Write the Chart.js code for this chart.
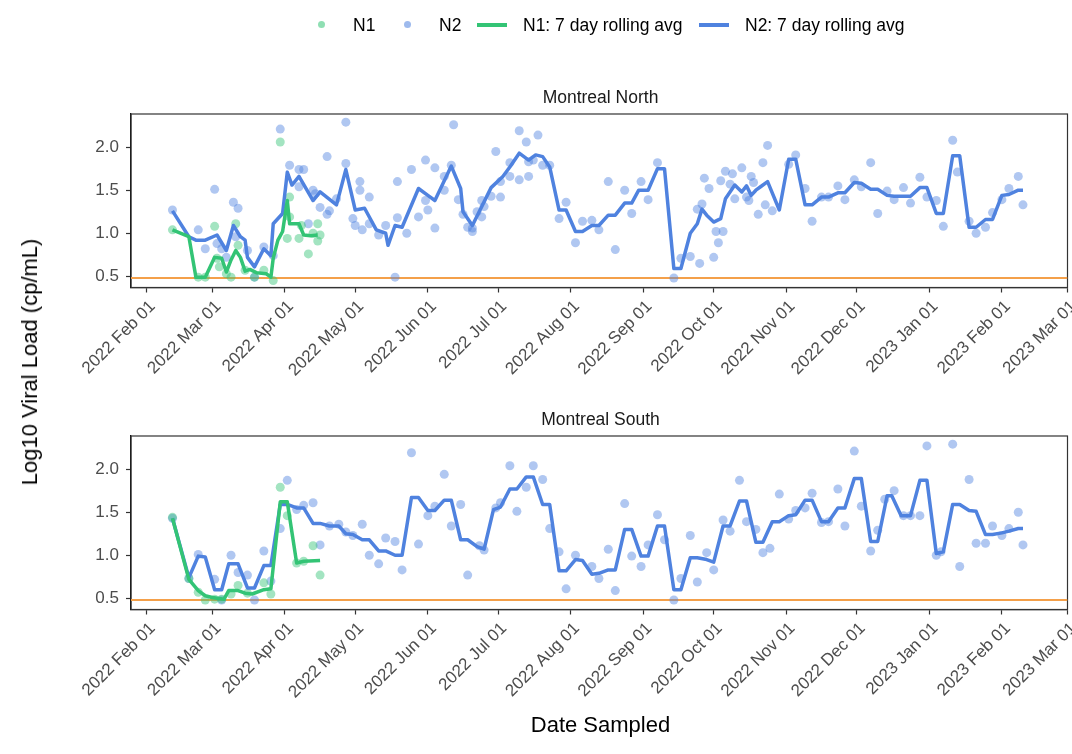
<!DOCTYPE html>
<html>
<head>
<meta charset="utf-8">
<script src="https://cdn.jsdelivr.net/npm/chart.js@4.4.0/dist/chart.umd.min.js"></script>
<style>
    body { margin: 0; background: #fff; font-family: "Liberation Sans", Arial, sans-serif; }
    #wrap { position: relative; width: 1072px; height: 754px; overflow: hidden; }
    canvas { position: absolute; left: 0; }
    .txt { position: absolute; white-space: nowrap; line-height: 20px; }
    .key-dot { position: absolute; width: 7px; height: 7px; border-radius: 50%; }
    .key-line { position: absolute; height: 4px; width: 30px; }
</style>
</head>
<body>
<div id="wrap">
    <canvas id="north-chart" width="1072" height="400" style="top:0"></canvas>
    <canvas id="south-chart" width="1072" height="354" style="top:400px"></canvas>

    <div class="key-dot" style="left:318px;top:21px;background:rgba(51,196,117,0.55)"></div>
    <div class="txt" style="left:353px;top:15px;font-size:17.5px">N1</div>
    <div class="key-dot" style="left:404px;top:21px;background:rgba(79,130,223,0.55)"></div>
    <div class="txt" style="left:439px;top:15px;font-size:17.5px">N2</div>
    <div class="key-line" style="left:477px;top:23px;background:#33c475"></div>
    <div class="txt" style="left:523px;top:15px;font-size:17.5px">N1: 7 day rolling avg</div>
    <div class="key-line" style="left:699px;top:23px;background:#4f82df"></div>
    <div class="txt" style="left:745px;top:15px;font-size:17.5px">N2: 7 day rolling avg</div>

    <div class="txt" style="left:131px;width:939px;top:87px;text-align:center;font-size:17.5px;color:#1a1a1a">Montreal North</div>
    <div class="txt" style="left:131px;width:939px;top:409px;text-align:center;font-size:17.5px;color:#1a1a1a">Montreal South</div>

    <div class="txt" style="left:30px;top:362px;font-size:22px;line-height:26px;transform:translate(-50%,-50%) rotate(-90deg)">Log10 Viral Load (cp/mL)</div>
    <div class="txt" style="left:0;width:1201px;top:712px;text-align:center;font-size:22px;line-height:26px">Date Sampled</div>
</div>

<script>
// days are counted from 2022-01-01 (day 0)
const startDate = '2022-01-01';
const tickDates = ['2022-02-01', '2022-03-01', '2022-04-01', '2022-05-01', '2022-06-01', '2022-07-01',
    '2022-08-01', '2022-09-01', '2022-10-01', '2022-11-01', '2022-12-01', '2023-01-01', '2023-02-01', '2023-03-01'];
const yTicks = [0.5, 1.0, 1.5, 2.0];
const lodLine = 0.48;

// Montreal North
const northN1Day = [42, 53, 56, 60, 61, 62, 65, 67, 69, 70, 73, 77, 81, 85, 88, 92, 91, 92, 96, 97, 100, 102, 104, 104, 105];
const northN1Val = [1.04, 0.49, 0.49, 1.08, 0.71, 0.61, 0.53, 0.49, 1.11, 0.86, 0.57, 0.49, 0.57, 0.45, 2.06, 1.42, 0.94, 1.19, 0.94, 1.09, 0.76, 1.00, 1.11, 0.91, 0.98];
const northN1AvgDay = [42, 49, 52, 56, 60, 63, 65, 67, 69, 71, 73, 75, 78, 82, 84, 85, 87, 89, 91, 92, 96, 98, 101, 104];
const northN1AvgVal = [1.04, 0.96, 0.49, 0.49, 0.72, 0.71, 0.55, 0.69, 0.80, 0.72, 0.56, 0.58, 0.54, 0.53, 0.49, 0.71, 0.92, 1.02, 1.38, 1.11, 1.11, 0.98, 0.97, 0.98];

const northN2Day = [42, 53, 56, 60, 61, 63, 65, 68, 70, 69, 74, 77, 81, 85, 88, 92, 96, 98, 96, 100, 102, 103, 105, 108, 108, 109, 112,
    116, 116, 122, 122, 119, 120, 123, 126, 126, 130, 133, 137, 138, 138, 142, 144, 147, 150, 151, 154, 154, 150,
    158, 158, 162, 161, 164, 166, 168, 170, 170, 172, 174, 174, 175, 178, 180, 182, 182, 186, 186, 190, 190, 193, 194, 194,
    196, 198, 200, 203, 207, 210, 214, 217, 221, 224, 228, 231, 235, 238, 242, 245, 249, 256, 259, 263, 267, 266, 268, 269,
    271, 273, 274, 275, 277, 276, 278, 280, 281, 282, 285, 287, 289, 290, 288, 292, 294, 295, 296, 298, 305, 308, 312, 315,
    319, 322, 326, 329, 333, 336, 340, 343, 347, 350, 354, 357, 361, 364, 368, 371, 375, 377, 382, 385, 389, 392, 396, 399, 403, 405];
const northN2Val = [1.27, 1.04, 0.82, 1.51, 0.88, 0.82, 0.72, 1.36, 1.29, 0.96, 0.80, 0.49, 0.84, 0.74, 2.21, 1.79, 1.74, 1.74, 1.54, 1.11, 1.50, 1.46, 1.30, 1.89, 1.22, 1.26, 1.40,
    2.29, 1.81, 1.60, 1.50, 1.17, 1.09, 1.04, 1.11, 1.42, 0.98, 1.09, 0.49, 1.60, 1.18, 1.00, 1.74, 1.19, 1.85, 1.27, 1.06, 1.76, 1.38,
    1.66, 1.50, 2.26, 1.79, 1.39, 1.22, 1.07, 1.06, 1.02, 1.25, 1.38, 1.19, 1.31, 1.43, 1.95, 1.42, 1.60, 1.66, 1.82, 2.19, 1.62, 2.06, 1.66, 1.83,
    1.85, 2.14, 1.79, 1.79, 1.17, 1.36, 0.89, 1.14, 1.15, 1.04, 1.60, 0.81, 1.50, 1.23, 1.60, 1.39, 1.82, 0.48, 0.71, 0.73, 0.65, 1.28, 1.34, 1.64,
    1.52, 0.72, 1.02, 0.89, 1.02, 1.61, 1.72, 1.57, 1.69, 1.40, 1.76, 1.42, 1.66, 1.59, 1.38, 1.22, 1.82, 1.33, 2.02, 1.26, 1.80, 1.91, 1.52, 1.14,
    1.42, 1.42, 1.55, 1.39, 1.62, 1.54, 1.82, 1.23, 1.49, 1.39, 1.53, 1.35, 1.65, 1.42, 1.38, 1.08, 2.08, 1.71, 1.14, 1.00, 1.07, 1.24, 1.39, 1.52, 1.66, 1.33];
const northN2AvgDay = [42, 49, 52, 56, 61, 65, 68, 71, 73, 74, 77, 81, 84, 85, 89, 91, 93, 96, 102, 105, 112, 116, 120, 124, 129, 133, 134, 137, 140,
    147, 151, 154, 161, 165, 166, 170, 178, 183, 186, 190, 194, 197, 200, 203, 207, 210, 214, 217, 221, 224, 228, 231, 235, 238, 241, 245,
    249, 252, 256, 259, 263, 266, 268, 270, 273, 276, 278, 282, 285, 287, 289, 291, 293, 296, 301, 305, 308, 312, 315, 319, 322, 326, 329,
    333, 336, 340, 343, 347, 350, 357, 361, 364, 368, 371, 375, 378, 382, 385, 389, 392, 396, 399, 403, 405];
const northN2AvgVal = [1.26, 0.96, 0.92, 0.92, 0.98, 0.80, 1.09, 0.96, 0.92, 0.72, 0.61, 0.82, 0.74, 1.11, 1.23, 1.71, 1.56, 1.66, 1.38, 1.48, 1.33, 1.74, 1.27, 1.29, 1.04, 1.00, 0.86, 1.09, 1.07,
    1.52, 1.44, 1.38, 1.78, 1.52, 1.25, 1.09, 1.53, 1.66, 1.77, 1.93, 1.85, 1.91, 1.89, 1.77, 1.27, 1.27, 1.02, 1.02, 1.09, 1.09, 1.21, 1.21, 1.35, 1.35, 1.50, 1.50,
    1.75, 1.75, 0.59, 0.59, 1.00, 1.11, 1.28, 1.21, 1.13, 1.17, 1.40, 1.56, 1.48, 1.55, 1.44, 1.50, 1.54, 1.60, 1.27, 1.86, 1.86, 1.33, 1.33, 1.42, 1.42, 1.47, 1.47,
    1.59, 1.58, 1.51, 1.51, 1.44, 1.43, 1.43, 1.53, 1.53, 1.23, 1.23, 1.90, 1.90, 1.07, 1.07, 1.16, 1.16, 1.44, 1.45, 1.50, 1.50];

// Montreal South
const southN1Day = [42, 49, 53, 56, 60, 63, 67, 70, 74, 81, 84, 88, 91, 95, 98, 102, 105];
const southN1Val = [1.44, 0.73, 0.57, 0.48, 0.49, 0.49, 0.55, 0.65, 0.56, 0.68, 0.55, 1.79, 1.46, 0.91, 0.93, 1.11, 0.77];
const southN1AvgDay = [42, 49, 53, 56, 59, 64, 66, 70, 73, 76, 81, 84, 88, 91, 95, 98, 105];
const southN1AvgVal = [1.43, 0.72, 0.59, 0.53, 0.51, 0.49, 0.59, 0.59, 0.56, 0.55, 0.60, 0.61, 1.62, 1.62, 0.91, 0.93, 0.94];

const southN2Day = [42, 49, 53, 60, 63, 67, 70, 74, 77, 81, 84, 88, 91, 95, 98, 102, 105, 109, 113, 116, 119, 123, 126, 130, 133, 137, 140,
    144, 147, 151, 154, 158, 161, 165, 168, 173, 175, 180, 182, 186, 189, 193, 196, 200, 203, 207, 210, 214, 221, 224, 228, 231,
    235, 238, 242, 245, 249, 252, 256, 259, 263, 266, 270, 273, 277, 280, 284, 287, 291, 294, 297, 301, 305, 308, 312, 315, 319,
    322, 326, 329, 333, 336, 340, 343, 346, 350, 354, 357, 361, 364, 368, 370, 375, 378, 382, 385, 389, 392, 396, 399, 403, 405];
const southN2Val = [1.43, 0.73, 1.01, 0.72, 0.48, 1.00, 0.80, 0.77, 0.48, 1.05, 0.70, 1.31, 1.87, 1.53, 1.58, 1.61, 1.12, 1.34, 1.36, 1.27, 1.23, 1.36, 1.00, 0.90, 1.20, 1.16, 0.83,
    2.19, 1.13, 1.46, 1.57, 1.94, 1.34, 1.59, 0.77, 1.11, 1.06, 1.55, 1.61, 2.04, 1.51, 1.79, 2.04, 1.88, 1.31, 1.04, 0.61, 1.00, 0.87, 0.73, 1.07, 0.59,
    1.60, 0.99, 0.87, 1.12, 1.47, 1.18, 0.48, 0.73, 1.23, 0.69, 1.03, 0.83, 1.41, 1.28, 1.87, 1.39, 1.30, 1.03, 1.08, 1.71, 1.42, 1.52, 1.55, 1.72, 1.38,
    1.39, 1.77, 1.34, 2.21, 1.57, 1.05, 1.29, 1.65, 1.75, 1.46, 1.46, 1.46, 2.27, 1.00, 1.04, 2.29, 0.87, 1.88, 1.14, 1.14, 1.34, 1.23, 1.31, 1.50, 1.12];
const southN2AvgDay = [42, 49, 53, 56, 60, 63, 66, 70, 74, 77, 81, 84, 88, 91, 95, 98, 102, 105, 109, 113, 116, 119, 123, 126, 130, 133, 137, 140,
    144, 147, 151, 154, 158, 161, 165, 168, 172, 175, 179, 182, 186, 189, 193, 196, 200, 203, 207, 210, 214, 217, 221, 224, 228, 231,
    235, 238, 242, 245, 249, 252, 256, 259, 263, 266, 270, 273, 277, 280, 284, 287, 291, 294, 298, 301, 305, 308, 312, 315, 319, 322,
    326, 329, 333, 336, 340, 343, 347, 349, 353, 357, 361, 364, 368, 371, 375, 378, 382, 385, 389, 392, 396, 399, 403, 405];
const southN2AvgVal = [1.43, 0.74, 0.99, 0.98, 0.60, 0.60, 0.90, 0.90, 0.62, 0.62, 0.88, 0.88, 1.59, 1.59, 1.55, 1.55, 1.37, 1.37, 1.34, 1.34, 1.25, 1.24, 1.18, 1.18, 1.05, 1.05, 1.00, 1.00,
    1.67, 1.67, 1.52, 1.52, 1.64, 1.64, 1.18, 1.18, 1.10, 1.07, 1.53, 1.56, 1.77, 1.77, 1.91, 1.91, 1.59, 1.59, 0.82, 0.82, 0.95, 0.94, 0.78, 0.79, 0.83, 0.83,
    1.30, 1.30, 0.99, 0.99, 1.34, 1.34, 0.60, 0.60, 0.97, 0.97, 0.95, 0.92, 1.34, 1.34, 1.63, 1.63, 1.15, 1.15, 1.39, 1.39, 1.46, 1.47, 1.64, 1.64, 1.39, 1.39,
    1.55, 1.55, 1.89, 1.89, 1.16, 1.16, 1.69, 1.69, 1.46, 1.46, 1.87, 1.87, 1.02, 1.04, 1.59, 1.59, 1.52, 1.51, 1.24, 1.24, 1.26, 1.28, 1.31, 1.31];

const green = '#33c475';
const blue = '#4f82df';
const greenPts = 'rgba(51,196,117,0.45)';
const bluePts = 'rgba(79,130,223,0.45)';
const orange = '#f4a04a';
const fontFamily = '"Liberation Sans", Arial, sans-serif';
const monthNames = ['Jan', 'Feb', 'Mar', 'Apr', 'May', 'Jun', 'Jul', 'Aug', 'Sep', 'Oct', 'Nov', 'Dec'];

const xMin = 24.3;
const xMax = 424;

function dayOf(iso) {
    return Math.round((Date.parse(iso) - Date.parse(startDate)) / 86400000);
}

const tickDays = tickDates.map(dayOf);

function tickLabel(value) {
    const i = tickDays.indexOf(value);
    if (i < 0) return '';
    const [y, m, d] = tickDates[i].split('-');
    return `${y} ${monthNames[Number(m) - 1]} ${d}`;
}

function pts(xs, ys) {
    return xs.map((x, i) => ({ x, y: ys[i] }));
}

const panelBorder = {
    id: 'panelBorder',
    beforeDatasetsDraw(chart) {
        const { ctx, chartArea: a } = chart;
        ctx.save();
        ctx.strokeStyle = '#333';
        ctx.lineWidth = 1.2;
        ctx.strokeRect(a.left, a.top, a.right - a.left, a.bottom - a.top);
        ctx.restore();
    }
};

function makePanel(elementId, padTop, xAxisH, d) {
    const ctx = document.getElementById(elementId);
    const axisGrid = { drawOnChartArea: false, drawTicks: true, tickLength: 5, tickColor: '#333', tickWidth: 1.2 };
    const axisBorder = { display: true, color: '#000', width: 1.3 };
    const tickFont = { family: fontFamily, size: 17 };

    new Chart(ctx, {
        type: 'scatter',
        data: {
            datasets: [
                { label: 'N1: 7 day rolling avg', data: pts(d.n1AvgDay, d.n1AvgVal), showLine: true, borderColor: green, borderWidth: 3.5, borderJoinStyle: 'round', pointRadius: 0, order: 0 },
                { label: 'N2: 7 day rolling avg', data: pts(d.n2AvgDay, d.n2AvgVal), showLine: true, borderColor: blue, borderWidth: 3.5, borderJoinStyle: 'round', pointRadius: 0, order: 0 },
                { label: 'N1', data: pts(d.n1Day, d.n1Val), backgroundColor: greenPts, borderWidth: 0, pointRadius: 4.5, order: 1 },
                { label: 'N2', data: pts(d.n2Day, d.n2Val), backgroundColor: bluePts, borderWidth: 0, pointRadius: 4.5, order: 1 },
                { label: 'LOD', data: [{ x: xMin, y: lodLine }, { x: xMax, y: lodLine }], showLine: true, borderColor: orange, borderWidth: 2, pointRadius: 0, order: 2 },
            ],
        },
        options: {
            responsive: false,
            animation: false,
            layout: { padding: { top: padTop, right: 2, left: 0, bottom: 0 } },
            plugins: { legend: { display: false }, tooltip: { enabled: false } },
            scales: {
                x: {
                    type: 'linear',
                    min: xMin,
                    max: xMax,
                    afterBuildTicks: s => { s.ticks = tickDays.map(v => ({ value: v })); },
                    afterFit: s => { s.height = xAxisH; s.paddingLeft = 0; s.paddingRight = 0; },
                    ticks: { autoSkip: false, minRotation: 45, maxRotation: 45, padding: 4, labelOffset: 6, color: '#4d4d4d', font: tickFont, callback: v => tickLabel(v) },
                    grid: axisGrid,
                    border: axisBorder,
                },
                y: {
                    min: 0.37,
                    max: 2.385,
                    afterBuildTicks: s => { s.ticks = yTicks.map(v => ({ value: v })); },
                    afterFit: s => { s.width = 131; },
                    ticks: { padding: 7, color: '#4d4d4d', font: tickFont, callback: v => v.toFixed(1) },
                    grid: axisGrid,
                    border: axisBorder,
                },
            },
        },
        plugins: [panelBorder],
    });
}

makePanel('north-chart', 114, 400 - 287.5, {
    n1Day: northN1Day, n1Val: northN1Val, n1AvgDay: northN1AvgDay, n1AvgVal: northN1AvgVal,
    n2Day: northN2Day, n2Val: northN2Val, n2AvgDay: northN2AvgDay, n2AvgVal: northN2AvgVal,
});

makePanel('south-chart', 36, 354 - 209.5, {
    n1Day: southN1Day, n1Val: southN1Val, n1AvgDay: southN1AvgDay, n1AvgVal: southN1AvgVal,
    n2Day: southN2Day, n2Val: southN2Val, n2AvgDay: southN2AvgDay, n2AvgVal: southN2AvgVal,
});
</script>
</body>
</html>
